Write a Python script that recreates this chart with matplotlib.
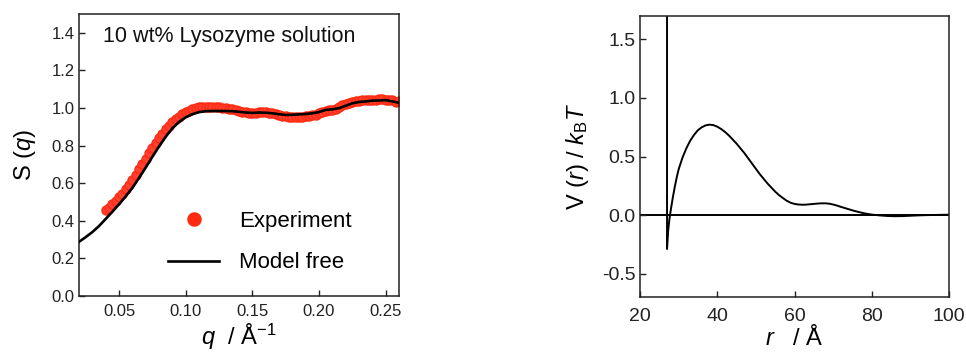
import matplotlib
matplotlib.use("Agg")
import matplotlib.pyplot as plt

plt.rcParams['font.family'] = ['Liberation Sans', 'DejaVu Sans']
plt.rcParams['mathtext.fontset'] = 'custom'
plt.rcParams['mathtext.rm'] = 'Liberation Sans'
plt.rcParams['mathtext.it'] = 'Liberation Sans:italic'
plt.rcParams['mathtext.bf'] = 'Liberation Sans:bold'

# ---------------- data: S(q) ----------------
q_exp = [0.0400, 0.0425, 0.0450, 0.0475, 0.0500, 0.0525, 0.0550, 0.0575, 0.0600, 0.0625,
         0.0650, 0.0675, 0.0700, 0.0725, 0.0750, 0.0775, 0.0800, 0.0825, 0.0850, 0.0875,
         0.0900, 0.0925, 0.0950, 0.0975, 0.1000, 0.1025, 0.1050, 0.1075, 0.1100, 0.1125,
         0.1150, 0.1175, 0.1200, 0.1225, 0.1250, 0.1275, 0.1300, 0.1325, 0.1350, 0.1375,
         0.1400, 0.1425, 0.1450, 0.1475, 0.1500, 0.1525, 0.1550, 0.1575, 0.1600, 0.1625,
         0.1650, 0.1675, 0.1700, 0.1725, 0.1750, 0.1775, 0.1800, 0.1825, 0.1850, 0.1875,
         0.1900, 0.1925, 0.1950, 0.1975, 0.2000, 0.2025, 0.2050, 0.2075, 0.2100, 0.2125,
         0.2150, 0.2175, 0.2200, 0.2225, 0.2250, 0.2275, 0.2300, 0.2325, 0.2350, 0.2375,
         0.2400, 0.2425, 0.2450, 0.2475, 0.2500, 0.2525, 0.2550, 0.2575, 0.2600]
s_exp = [0.455, 0.470, 0.487, 0.505, 0.524, 0.545, 0.567, 0.592, 0.618, 0.645,
         0.673, 0.702, 0.731, 0.759, 0.787, 0.814, 0.840, 0.864, 0.886, 0.906,
         0.924, 0.940, 0.954, 0.966, 0.977, 0.986, 0.994, 1.000, 1.004, 1.006,
         1.007, 1.006, 1.005, 1.004, 1.003, 1.002, 1.000, 0.997, 0.993, 0.989,
         0.985, 0.981, 0.977, 0.974, 0.973, 0.975, 0.977, 0.978, 0.977, 0.975,
         0.972, 0.968, 0.963, 0.958, 0.955, 0.953, 0.952, 0.952, 0.953, 0.954,
         0.956, 0.958, 0.961, 0.965, 0.972, 0.980, 0.985, 0.987, 0.990, 0.996,
         1.005, 1.014, 1.021, 1.027, 1.032, 1.036, 1.039, 1.041, 1.042, 1.043,
         1.044, 1.045, 1.046, 1.048, 1.045, 1.043, 1.040, 1.033, 1.036]

q_model = [0.020, 0.025, 0.030, 0.035, 0.040, 0.045, 0.050, 0.055, 0.060, 0.065,
           0.070, 0.075, 0.080, 0.085, 0.090, 0.095, 0.100, 0.105, 0.110, 0.115,
           0.120, 0.125, 0.130, 0.135, 0.140, 0.145, 0.150, 0.155, 0.160, 0.165,
           0.170, 0.175, 0.180, 0.185, 0.190, 0.195, 0.200, 0.205, 0.210, 0.215,
           0.220, 0.225, 0.230, 0.235, 0.240, 0.245, 0.250, 0.255, 0.260]
s_model = [0.288, 0.313, 0.340, 0.372, 0.410, 0.448, 0.488, 0.530, 0.575, 0.628,
           0.683, 0.740, 0.795, 0.847, 0.892, 0.926, 0.950, 0.967, 0.978, 0.983,
           0.984, 0.984, 0.984, 0.983, 0.980, 0.976, 0.974, 0.976, 0.975, 0.972,
           0.967, 0.963, 0.964, 0.966, 0.968, 0.972, 0.978, 0.990, 0.993, 0.999,
           1.012, 1.025, 1.032, 1.035, 1.039, 1.040, 1.042, 1.035, 1.028]

# ---------------- data: V(r) ----------------
# first point stands for the hard-core (infinite) wall at contact
r_pot = [27.0, 27.0, 27.3, 27.6, 28.0, 28.5, 29.0, 29.5, 30.0, 31.0,
         32.0, 33.0, 34.0, 35.0, 36.0, 37.0, 38.0, 39.0, 40.0, 41.0,
         42.0, 43.0, 44.0, 45.0, 46.0, 47.0, 48.0, 49.0, 50.0, 51.0,
         52.0, 53.0, 54.0, 55.0, 56.0, 57.0, 58.0, 59.0, 60.0, 61.0,
         62.0, 63.0, 64.0, 65.0, 66.0, 67.0, 68.0, 69.0, 70.0, 71.0,
         72.0, 73.0, 74.0, 75.0, 76.0, 77.0, 78.0, 79.0, 80.0, 82.0,
         84.0, 86.0, 88.0, 90.0, 92.0, 95.0, 100.0]
v_pot = [10.0, -0.29, -0.13, -0.04, 0.05, 0.15, 0.24, 0.32, 0.39, 0.49,
         0.57, 0.635, 0.685, 0.725, 0.75, 0.766, 0.772, 0.768, 0.755, 0.735,
         0.71, 0.68, 0.645, 0.61, 0.57, 0.53, 0.485, 0.44, 0.395, 0.35,
         0.31, 0.27, 0.235, 0.20, 0.17, 0.145, 0.122, 0.105, 0.095, 0.09,
         0.088, 0.089, 0.092, 0.095, 0.098, 0.10, 0.10, 0.097, 0.09, 0.081,
         0.07, 0.06, 0.05, 0.04, 0.031, 0.023, 0.015, 0.009, 0.004, -0.003,
         -0.008, -0.01, -0.009, -0.006, -0.003, 0.0, 0.003]

q_ticks = [0.05, 0.10, 0.15, 0.20, 0.25]
s_ticks = [0.0, 0.2, 0.4, 0.6, 0.8, 1.0, 1.2, 1.4]
r_ticks = [20, 40, 60, 80, 100]
v_ticks = [-0.5, 0.0, 0.5, 1.0, 1.5]

red = '#ff2a10'

fig = plt.figure(figsize=(9.66, 3.54), dpi=100)
ax1 = fig.add_axes([79/966, 58/354, 320/966, 282/354])
ax2 = fig.add_axes([640/966, 57/354, 309/966, 281/354])

for ax in (ax1, ax2):
    for sp in ax.spines.values():
        sp.set_linewidth(1.1)
        sp.set_color('#222222')
    ax.tick_params(direction='in', length=4, width=1.0,
                   top=False, right=False, colors='#222222', labelcolor='#222222')

# ---- left panel ----
ax1.plot(q_exp, s_exp, 'o', ms=6.5, mfc='#ff4030', mec=red, mew=1.0,
         label='Experiment', zorder=2)
ax1.plot(q_model, s_model, '-', color='black', lw=1.9, label='Model free', zorder=3)
ax1.set_xlim(0.02, 0.26)
ax1.set_ylim(0.0, 1.5)
ax1.set_xticks(q_ticks)
ax1.set_xticklabels([f'{t:.2f}' for t in q_ticks])
ax1.set_yticks(s_ticks)
ax1.set_yticklabels([f'{t:.1f}' for t in s_ticks])
ax1.tick_params(labelsize=12)
ax1.tick_params(axis='x', pad=6)
ax1.tick_params(axis='y', pad=3)
ax1.set_ylabel(r'S ($q$)', fontsize=17, labelpad=10)
ax1.set_xlabel(r'$q$  / Å$^{-1}$', fontsize=17, labelpad=2)
ax1.text(0.075, 0.9007, '10 wt% Lysozyme solution', transform=ax1.transAxes,
         fontsize=15.5, va='baseline', ha='left', color='#111111')
leg = ax1.legend(loc='upper left', bbox_to_anchor=(0.278, 0.302), frameon=False,
                 fontsize=16, handlelength=2.3, handletextpad=0.9, labelspacing=0.92,
                 markerscale=1.45, borderpad=0, borderaxespad=0)
for h in leg.legend_handles:
    try:
        h.set_markerfacecolor(red)
    except Exception:
        pass

# ---- right panel ----
ax2.axhline(0.0, color='black', lw=1.4, zorder=1)
ax2.plot(r_pot, v_pot, '-', color='black', lw=1.4, zorder=2)
ax2.set_xlim(20, 100)
ax2.set_ylim(-0.7, 1.7)
ax2.set_xticks(r_ticks)
ax2.set_xticklabels([str(t) for t in r_ticks])
ax2.set_yticks(v_ticks)
ax2.set_yticklabels([f'{t:.1f}' for t in v_ticks])
ax2.tick_params(labelsize=14)
ax2.tick_params(axis='x', pad=8)
ax2.tick_params(axis='y', pad=3)
ax2.set_ylabel(r'V ($r$) / $k_\mathrm{B}T$', fontsize=17, labelpad=8)
ax2.set_xlabel(r'$r$   / Å', fontsize=17, labelpad=0)

fig.savefig('out.png', dpi=100)
